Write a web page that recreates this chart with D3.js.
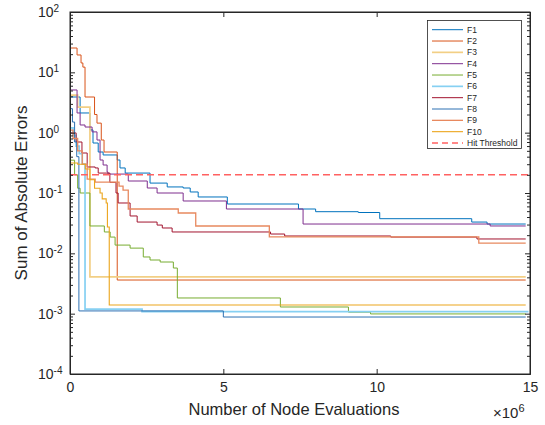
<!DOCTYPE html>
<html><head><meta charset="utf-8">
<script src="https://cdn.jsdelivr.net/npm/d3@7"></script>
<style>
body{margin:0;background:#fff}
svg{display:block;font-family:"Liberation Sans",Arial,Helvetica,sans-serif}
</style>
</head><body>
<svg id="chart" width="545" height="425"></svg>
<script>
// ---- data (x in units of 1e6 node evaluations, y = sum of absolute errors) ----
const seriesNames = ["F1","F2","F3","F4","F5","F6","F7","F8","F9","F10"];
const f1X = [0,0.33,0.65,0.75,0.92,1.08,1.54,1.63,1.80,2.61,3.17,3.69,3.92,4.18,5.13,7.45,8.01,9.40,10.10,13.10,13.60,14.86];
const f1Y = [3.9,2.12,1.11,0.674,0.478,0.427,0.352,0.26,0.214,0.146,0.126,0.121,0.104,0.0859,0.0657,0.0543,0.049,0.0475,0.0375,0.033,0.0306,0.0306];
const f2X = [0,0.23,0.36,0.42,0.49,0.80,0.88,1.02,1.11,1.54,14.86];
const f2Y = [25.3,19.4,14.3,12.2,3.9,2.0,1.44,0.755,0.478,0.00361,0.00361];
const f3X = [0,0.25,0.65,14.86];
const f3Y = [4.2,2.66,0.00406,0.00406];
const f4X = [0,0.23,0.33,0.49,0.72,0.88,0.98,1.08,1.21,1.24,1.90,2.52,2.84,3.69,5.10,7.60,13.70,14.86];
const f4Y = [5.1,2.12,1.34,1.24,1.03,0.755,0.352,0.291,0.223,0.206,0.158,0.121,0.1,0.0737,0.0543,0.0306,0.0284,0.0284];
const f5X = [0,0.15,0.25,0.33,0.65,1.12,1.31,1.47,1.96,2.39,2.61,2.94,3.37,3.50,6.86,9.08,9.80,14.86];
const f5Y = [0.35,0.2,0.12,0.1,0.0284,0.0226,0.0186,0.0137,0.0122,0.0087,0.00775,0.00718,0.00571,0.00182,0.00129,0.00106,0.00099,0.00099];
const f6X = [0,0.1,0.2,0.3,0.4,0.49,2.35,14.95];
const f6Y = [1.2,0.9,0.6,0.45,0.3,0.00119,0.00108,0.00108];
const f7X = [0,0.2,0.39,0.56,0.82,0.92,1.30,1.50,1.57,1.96,2.19,2.84,3.01,3.33,6.54,7.00,10.46,13.27,14.86];
const f7Y = [0.99,0.7,0.46,0.27,0.26,0.214,0.15,0.1,0.0683,0.0416,0.033,0.0294,0.0263,0.0226,0.0209,0.0194,0.0186,0.0173,0.0173];
const f8X = [0,0.08,0.15,0.22,0.29,5.0,14.86];
const f8Y = [2.5,1.5,0.7,0.4,0.00111,0.00088,0.00088];
const f9X = [0,0.1,0.25,0.4,0.56,0.82,1.60,1.73,1.90,3.53,4.10,6.50,13.33,14.86];
const f9Y = [1.1,0.8,0.5,0.3,0.17,0.152,0.13,0.112,0.0543,0.0466,0.0284,0.0188,0.0148,0.0148];
const f10X = [0,0.25,0.5,0.65,0.8,0.98,1.05,1.18,1.22,1.28,14.86];
const f10Y = [0.314,0.3,0.25,0.166,0.12,0.1,0.08,0.0683,0.0273,0.00139,0.00139];
const thresholdValue = 0.2;
const thresholdName = "Hit Threshold";
const xTickValues = [0,5,10,15];
const yTickExponents = [-4,-3,-2,-1,0,1,2];
const xLabel = "Number of Node Evaluations";
const yLabel = "Sum of Absolute Errors";

// ---- styles ----
const seriesColors = ["#0072BD","#D95319","#F2CF85","#7E2F8E","#77AC30","#86D0F2","#A2142F","#2C70B3","#E8895F","#ECA51C"];
const seriesWidths = [1,1,1.7,1,1,1.7,1,1,1.3,1.1];
const axisColor = "#262626";
const thresholdColor = "#FF6161";

const xs = [f1X,f2X,f3X,f4X,f5X,f6X,f7X,f8X,f9X,f10X];
const ys = [f1Y,f2Y,f3Y,f4Y,f5Y,f6Y,f7Y,f8Y,f9Y,f10Y];
const series = seriesNames.map((n,i)=>({name:n, pts: xs[i].map((v,j)=>[v, ys[i][j]])}));

const L=70, R=530, T=12, B=374;
const svg = d3.select("#chart");
const x = d3.scaleLinear().domain([0,15]).range([L,R]);
const y = d3.scaleLog().domain([1e-4,1e2]).range([B,T]);

svg.append("defs").append("clipPath").attr("id","clip")
  .append("rect").attr("x",L).attr("y",T).attr("width",R-L).attr("height",B-T);

const line = d3.line().x(d=>x(d[0])).y(d=>y(d[1])).curve(d3.curveStepAfter);
const plot = svg.append("g").attr("clip-path","url(#clip)");
series.forEach((s,i)=>{
  plot.append("path").attr("d", line(s.pts)).attr("fill","none")
    .attr("stroke", seriesColors[i]).attr("stroke-width", seriesWidths[i]);
});
plot.append("line").attr("x1",x(0)).attr("x2",x(15)).attr("y1",y(thresholdValue)).attr("y2",y(thresholdValue))
  .attr("stroke",thresholdColor).attr("stroke-width",1.5).attr("stroke-dasharray","7,4");

// ---- axes ----
const minors = [];
for (let e=-4;e<2;e++) for (let k=2;k<=9;k++) minors.push(k*Math.pow(10,e));
const decades = yTickExponents.map(e=>Math.pow(10,e));

function styleAxis(g){
  g.select(".domain").attr("stroke",axisColor);
  g.selectAll(".tick line").attr("stroke",axisColor);
  g.selectAll(".tick text").attr("fill",axisColor);
  g.attr("font-family",null);
}

svg.append("g").attr("transform",`translate(0,${B})`)
  .call(d3.axisBottom(x).tickValues(xTickValues).tickSize(-5).tickSizeOuter(0).tickPadding(8).tickFormat(d3.format("d")))
  .call(styleAxis).attr("font-size",14);
svg.append("g").attr("transform",`translate(0,${T})`)
  .call(d3.axisTop(x).tickValues(xTickValues).tickSize(-5).tickSizeOuter(0).tickFormat(""))
  .call(styleAxis);
const yl = svg.append("g").attr("transform",`translate(${L},0)`)
  .call(d3.axisLeft(y).tickValues(decades).tickSize(-5).tickSizeOuter(0).tickPadding(32))
  .call(styleAxis).attr("font-size",14);
yl.selectAll(".tick text").attr("text-anchor","start").each(function(d){
  const t = d3.select(this); t.text(null);
  t.append("tspan").text("10");
  t.append("tspan").attr("dy","-0.5em").attr("font-size","10px").text(String(Math.round(Math.log10(d))));
});
svg.append("g").attr("transform",`translate(${L},0)`)
  .call(d3.axisLeft(y).tickValues(minors).tickSize(-3).tickSizeOuter(0).tickFormat(""))
  .call(styleAxis);
svg.append("g").attr("transform",`translate(${R},0)`)
  .call(d3.axisRight(y).tickValues(decades).tickSize(-5).tickSizeOuter(0).tickFormat(""))
  .call(styleAxis);
svg.append("g").attr("transform",`translate(${R},0)`)
  .call(d3.axisRight(y).tickValues(minors).tickSize(-3).tickSizeOuter(0).tickFormat(""))
  .call(styleAxis);
svg.append("rect").attr("x",L).attr("y",T).attr("width",R-L).attr("height",B-T)
  .attr("fill","none").attr("stroke",axisColor).attr("stroke-width",1);

// labels
svg.append("text").attr("x",294).attr("y",415).attr("text-anchor","middle")
  .attr("font-size",16.5).attr("fill",axisColor).text(xLabel);
svg.append("text").attr("transform",`translate(27,${(T+B)/2}) rotate(-90)`).attr("text-anchor","middle")
  .attr("font-size",17).attr("fill",axisColor).text(yLabel);
const ex = svg.append("text").attr("x",493).attr("y",418).attr("font-size",15).attr("fill",axisColor);
ex.append("tspan").text("\u00d710");
ex.append("tspan").attr("dy","-0.55em").attr("font-size","11px").text("6");

// ---- legend ----
const lg = svg.append("g");
lg.append("rect").attr("x",427.5).attr("y",20.5).attr("width",94).attr("height",128)
  .attr("fill","#fff").attr("stroke",axisColor).attr("stroke-width",0.8);
const legendItems = seriesNames.map((n,i)=>({name:n,color:seriesColors[i],w:seriesWidths[i],dash:null}))
  .concat([{name:thresholdName,color:thresholdColor,w:1.5,dash:"6,4"}]);
legendItems.forEach((it,i)=>{
  const yy = 29.7 + i*11.33;
  lg.append("line").attr("x1",432).attr("x2",463).attr("y1",yy).attr("y2",yy)
    .attr("stroke",it.color).attr("stroke-width",it.w).attr("stroke-dasharray",it.dash);
  lg.append("text").attr("x",467).attr("y",yy).attr("dy","0.35em").attr("font-size",8.5)
    .attr("fill",axisColor).text(it.name);
});
</script>
</body></html>
